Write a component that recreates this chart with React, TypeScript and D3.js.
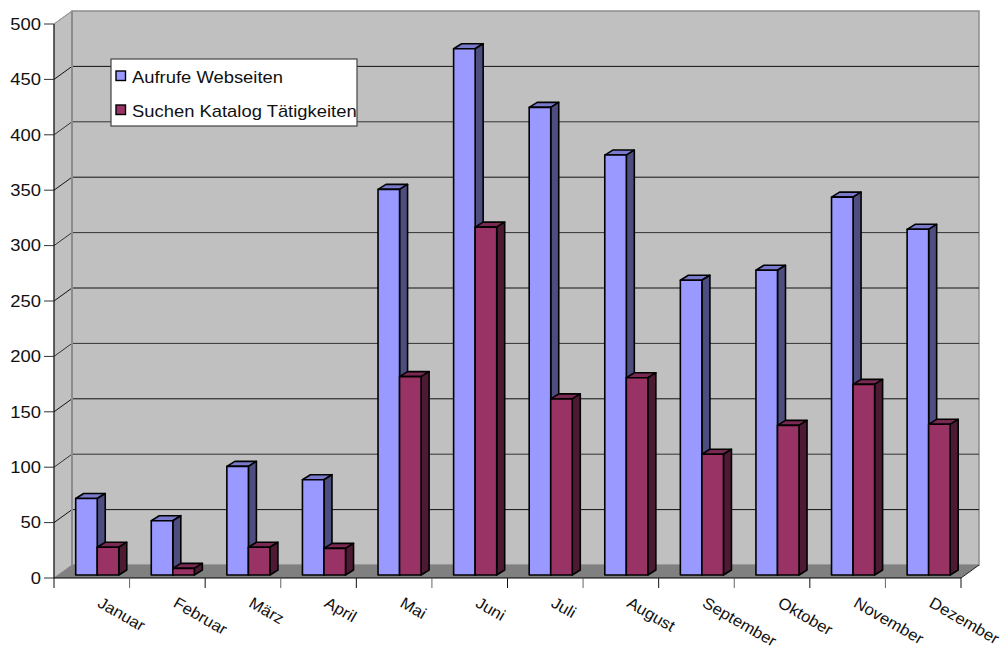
import React from "react";
import * as d3 from "d3";

const months = ["Januar", "Februar", "März", "April", "Mai", "Juni", "Juli", "August", "September", "Oktober", "November", "Dezember"];
const aufrufe = [69, 49, 98, 86, 348, 475, 422, 379, 266, 275, 341, 312];
const suchen = [25, 6, 25, 24, 179, 314, 159, 178, 109, 135, 172, 136];
const seriesNames = ["Aufrufe Webseiten", "Suchen Katalog Tätigkeiten"];
const yTicks = d3.range(0, 501, 50);

const W = 1003, H = 650;
const left = 54, right = 961, top = 24, bottom = 578;
const wallDx = 18, wallDy = -13;
const barDx = 8, barDy = -5;
const barLift = -3;
const font = "'Liberation Sans', Arial, sans-serif";
const textStretch = 1.15;
const monthStretch = 1.05;

const y = d3.scaleLinear().domain([0, 500]).range([bottom, top]);
const x = d3.scaleBand<string>().domain(months).range([left, right]);
const barOffset = x.bandwidth() * 0.287;
const barW = x.bandwidth() * 0.285;

const colors = [
  { front: "#9999ff", top: "#7a7acc", side: "#4d4d80" },
  { front: "#993366", top: "#7a2952", side: "#4d1a33" },
];

function Bar3D({ x0, v, c }: { x0: number; v: number; c: typeof colors[number] }) {
  const yt = y(v) + barLift;
  const yb = y(0) + barLift;
  const x1 = x0 + barW;
  const pts = (a: number[][]) => a.map((p) => p.join(",")).join(" ");
  const st = { stroke: "#000", strokeWidth: 1.6, strokeLinejoin: "round" as const };
  return (
    <g>
      <polygon points={pts([[x0, yt], [x0 + barDx, yt + barDy], [x1 + barDx, yt + barDy], [x1, yt]])} fill={c.top} {...st} />
      <polygon points={pts([[x1, yt], [x1 + barDx, yt + barDy], [x1 + barDx, yb + barDy], [x1, yb]])} fill={c.side} {...st} />
      <rect x={x0} y={yt} width={barW} height={yb - yt} fill={c.front} {...st} />
    </g>
  );
}

export default function App() {
  const backL = left + wallDx, backR = right + wallDx;
  const backT = top + wallDy, backB = bottom + wallDy;
  return (
    <svg width={W} height={H} style={{ position: "absolute", left: 0, top: 0, background: "#fff" }} fontFamily={font}>
      {/* back wall, side wall and floor */}
      <rect x={backL} y={backT} width={backR - backL} height={backB - backT} fill="#c0c0c0" stroke="#8c8c8c" strokeWidth={1.5} />
      <polygon points={`${left},${top} ${backL},${backT} ${backL},${backB} ${left},${bottom}`} fill="#c0c0c0" stroke="#8c8c8c" strokeWidth={1} />
      <polygon points={`${left},${bottom} ${backL},${backB} ${backR},${backB} ${right},${bottom}`} fill="#808080" />

      {/* gridlines along the walls */}
      {yTicks.filter((t) => t > 0 && t < 500).map((t, i) => (
        <g key={t} stroke={i % 2 ? "#333" : "#111"} strokeWidth={1}>
          <line x1={left} y1={y(t)} x2={backL} y2={y(t) + wallDy} />
          <line x1={backL} y1={y(t) + wallDy} x2={backR} y2={y(t) + wallDy} />
        </g>
      ))}
      <line x1={backL} y1={backT} x2={backL} y2={backB} stroke="#8c8c8c" strokeWidth={2} />
      <line x1={left} y1={top} x2={backL} y2={backT} stroke="#999" strokeWidth={1} />
      <line x1={right} y1={bottom} x2={backR} y2={backB} stroke="#222" strokeWidth={1} />

      {/* value axis */}
      <line x1={left} y1={top} x2={left} y2={bottom} stroke="#000" strokeWidth={1} />
      {yTicks.map((t) => (
        <g key={t}>
          <line x1={left - 10} y1={y(t)} x2={left} y2={y(t)} stroke="#333" strokeWidth={1} />
          <text transform={`translate(${left - 13},${y(t)}) scale(${textStretch},1)`} dy="0.36em" textAnchor="end" fontSize={16} fill="#111">{t}</text>
        </g>
      ))}

      {/* category axis */}
      <line x1={left} y1={bottom} x2={right} y2={bottom} stroke="#000" strokeWidth={1} />
      {[...months.map((m) => x(m)!), right].map((p, i) => (
        <line key={i} x1={p} y1={bottom} x2={p} y2={bottom + 10} stroke={i % 2 ? "#666" : "#111"} strokeWidth={1} />
      ))}
      {months.map((m) => (
        <text key={m} transform={`translate(${x(m)! + x.bandwidth() - 33},${bottom + 28}) rotate(30) scale(${monthStretch},1)`} fontSize={16} fill="#111">{m}</text>
      ))}

      {/* paired 3D columns, drawn left to right so each overlaps the previous depth face */}
      {months.map((m, i) => (
        <g key={m}>
          <Bar3D x0={x(m)! + barOffset} v={aufrufe[i]} c={colors[0]} />
          <Bar3D x0={x(m)! + barOffset + barW} v={suchen[i]} c={colors[1]} />
        </g>
      ))}

      {/* legend */}
      <rect x={111} y={59} width={246} height={67} fill="#fff" stroke="#444" strokeWidth={1.2} />
      {seriesNames.map((n, i) => (
        <g key={n}>
          <rect x={116} y={71 + i * 34} width={9.5} height={9.5} fill={colors[i].front} stroke="#000" strokeWidth={1.4} />
          <text transform={`translate(132,${83 + i * 34}) scale(${textStretch},1)`} fontSize={16} fill="#111">{n}</text>
        </g>
      ))}
    </svg>
  );
}
